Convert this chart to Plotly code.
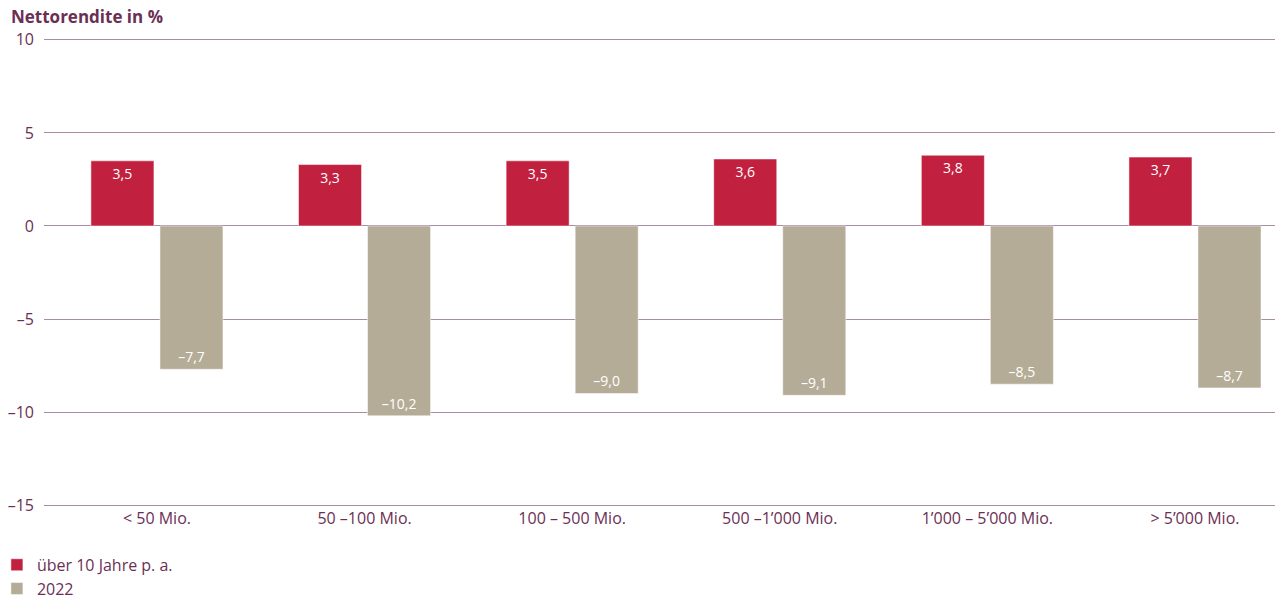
import plotly.graph_objects as go

# Data
categories = ["< 50 Mio.", "50 –100 Mio.", "100 – 500 Mio.", "500 –1’000 Mio.",
              "1’000 – 5’000 Mio.", "> 5’000 Mio."]
ten_years = [3.5, 3.3, 3.5, 3.6, 3.8, 3.7]
year_2022 = [-7.7, -10.2, -9.0, -9.1, -8.5, -8.7]
tick_vals = [10, 5, 0, -5, -10, -15]

COLORS = {
    'red': '#c1203f',
    'grey': '#b5ac97',
    'text': '#6b2f55',
    'grid': '#a98ba2',
}
FONT = "Open Sans, Noto Sans, sans-serif"


def fmt(v):
    """German decimal comma and en dash for minus."""
    s = f"{abs(v):.1f}".replace(".", ",")
    return ("–" + s) if v < 0 else s


fig = go.Figure()
fig.add_trace(go.Bar(
    x=categories, y=ten_years, name="über 10 Jahre p. a.",
    marker_color=COLORS['red'],
    text=[fmt(v) for v in ten_years],
    textposition="inside", insidetextanchor="end",
    textfont=dict(color="white", size=14, family=FONT),
))
fig.add_trace(go.Bar(
    x=categories, y=year_2022, name="2022",
    marker_color=COLORS['grey'],
    text=[fmt(v) for v in year_2022],
    textposition="inside", insidetextanchor="end",
    textfont=dict(color="white", size=14, family=FONT),
))

# page body has an 8px margin, so the figure is a bit smaller than the window
fig.update_layout(
    width=1275, height=590,
    template="plotly_white",
    plot_bgcolor="white", paper_bgcolor="white",
    barmode="group", bargap=0.335, bargroupgap=0.087,
    margin=dict(l=36, r=0, t=30, b=91, autoexpand=False),
    font=dict(family=FONT, size=16, color=COLORS['text']),
    showlegend=True,
    legend=dict(
        orientation="v", x=-0.038, xref="paper", xanchor="left",
        y=0.085, yref="container", yanchor="top",
        font=dict(size=16, color=COLORS['text']),
        itemwidth=30, tracegroupgap=0, traceorder="normal",
    ),
    annotations=[dict(
        text="<b>Nettorendite in %</b>", xref="paper", yref="paper",
        x=0, xanchor="left", y=1.045, yanchor="middle",
        xshift=-35,
        showarrow=False, font=dict(size=17, color=COLORS['text']),
    )],
)

fig.update_xaxes(
    showgrid=False, showline=False, ticks="",
    range=[-0.544, 5.424],
    tickfont=dict(size=16, color=COLORS['text']),
)
fig.update_yaxes(
    range=[-15.1, 10.1], tickvals=tick_vals,
    ticktext=[fmt(v).replace(",0", "") for v in tick_vals],
    showgrid=True, gridcolor=COLORS['grid'], gridwidth=1,
    zeroline=True, zerolinecolor=COLORS['grid'], zerolinewidth=1,
    ticks="", ticklabelstandoff=9,
    tickfont=dict(size=16, color=COLORS['text']),
)

fig.write_html("out.html")
